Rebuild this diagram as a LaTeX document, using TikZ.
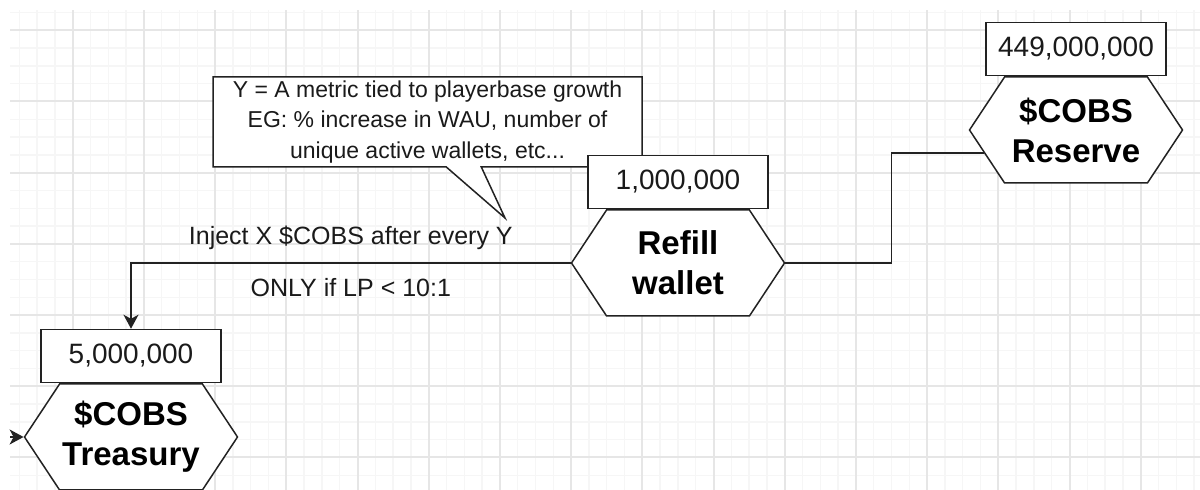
\documentclass[tikz,border=0pt]{standalone}
\usepackage{fontspec}
\setmainfont{Liberation Sans}
\usetikzlibrary{arrows.meta,positioning,shapes.symbols,shapes.callouts}
\definecolor{cobsInk}{HTML}{1A1A1A}
\definecolor{cobsLine}{HTML}{222222}
\definecolor{cobsGridMinor}{HTML}{F6F6F6}
\definecolor{cobsGridMajor}{HTML}{E6E6E6}
\tikzset{
  cobs hex/.style={signal, signal to=west and east, signal pointer angle=113, draw=cobsLine, fill=white, line width=1.5pt, minimum width=213pt, minimum height=106pt, inner sep=0pt, align=center, font=\fontsize{33}{40}\selectfont\bfseries, text=black},
  cobs value/.style={rectangle, draw=cobsLine, fill=white, line width=1.5pt, minimum width=180pt, minimum height=53pt, inner sep=0pt, font=\fontsize{28}{32}\selectfont, text=cobsInk},
  cobs note/.style={rectangle callout, draw=cobsLine, fill=white, line width=1.5pt, minimum width=429pt, minimum height=90pt, inner sep=0pt, callout pointer width=35pt, align=center, font=\fontsize{23}{30.5}\selectfont, text=cobsInk},
  cobs flow/.style={draw=cobsLine, line width=1.5pt},
  cobs tip/.style={-{Stealth[length=14pt,width=15pt,inset=4pt]}},
  cobs label/.style={font=\fontsize{25}{30}\selectfont, text=cobsInk},
  grid minor/.style={draw=cobsGridMinor, line width=1.5pt},
  grid major/.style={draw=cobsGridMajor, line width=2pt},
}
\begin{document}
\begin{tikzpicture}[x=1pt,y=1pt]
  \useasboundingbox[fill=white] (0,0) rectangle (1200,490);
  % background grid
  \foreach \k in {1,...,67}{\draw[grid minor] (1.5+17.8*\k,0) -- (1.5+17.8*\k,480);}
  \foreach \k in {0,...,26}{\draw[grid minor] (10,477.5-17.8*\k) -- (1200,477.5-17.8*\k);}
  \foreach \k in {1,...,16}{\draw[grid major] (1.5+71.2*\k,0) -- (1.5+71.2*\k,480);}
  \foreach \k in {0,...,6}{\draw[grid major] (10,459.7-71.2*\k) -- (1200,459.7-71.2*\k);}

  % note about Y
  \node[cobs note, callout absolute pointer={(505,272)}] (note) at (427.5,368)
    {Y = A metric tied to playerbase growth\\EG: \% increase in WAU, number of\\unique active wallets, etc...};

  % wallets
  \node[cobs hex] (treasury) at (131,53) {\$COBS\\Treasury};
  \node[cobs hex] (refill) at (678,227) {Refill\\wallet};
  \node[cobs hex] (reserve) at (1076,360) {\$COBS\\Reserve};
  \node[cobs value, above=0pt of treasury] (treasuryval) {5,000,000};
  \node[cobs value, above=0pt of refill] (refillval) {1,000,000};
  \node[cobs value, above=0pt of reserve] (reserveval) {449,000,000};

  % flows
  \coordinate (inflow) at (10,53);
  \draw[cobs flow, cobs tip] (inflow) -- (treasury.west);
  \draw[cobs flow, cobs tip] (refill.west) -| (treasuryval.north)
    node[cobs label, pos=.25, above=9pt] {Inject X \$COBS after every Y}
    node[cobs label, pos=.25, below=11pt] {ONLY if LP < 10:1};
  \draw[cobs flow] (refill.east) -- ++(106,0) |- (reserve.194);
\end{tikzpicture}
\end{document}
